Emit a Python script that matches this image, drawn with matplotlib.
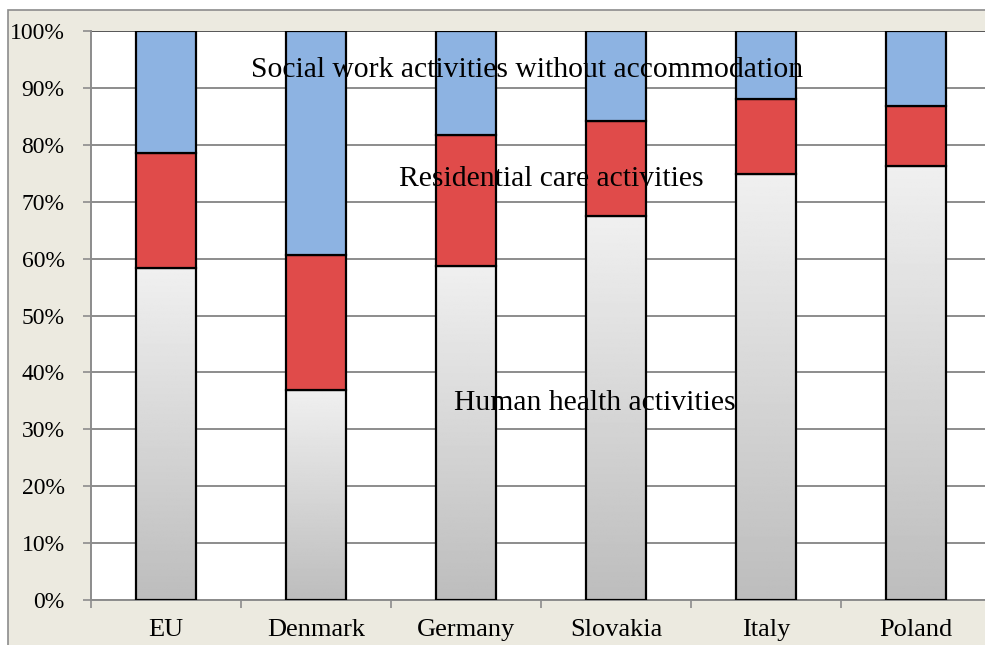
import matplotlib.pyplot as plt
import numpy as np
from matplotlib.patches import Rectangle

countries = ["EU", "Denmark", "Germany", "Slovakia", "Italy", "Poland"]
human_health = [58.3, 36.9, 58.7, 67.5, 74.9, 76.3]
residential = [20.3, 23.7, 23.0, 16.7, 13.1, 10.5]
social_work = [100 - h - r for h, r in zip(human_health, residential)]
yticks = list(range(0, 101, 10))

plt.rcParams['font.family'] = ['Liberation Serif', 'DejaVu Serif']

fig = plt.figure(figsize=(9.85, 6.45), dpi=100)
fig.patch.set_facecolor('white')
# beige chart frame, cut off at right and bottom
fig.patches.append(Rectangle((8 / 985, -0.1), 1.1, (645 - 10) / 645 + 0.1,
                             transform=fig.transFigure, facecolor='#ECEAE0',
                             edgecolor='#8C8C8C', linewidth=1.2, zorder=-10))

ax = fig.add_axes([91 / 985, 45 / 645, 900 / 985, 569 / 645])
ax.set_facecolor('white')
x = np.arange(len(countries))
w = 0.4

for y in yticks:
    ax.axhline(y, color='#555555' if y == 100 else '#8C8C8C', linewidth=1.4, zorder=1)

grad = np.linspace(0.74, 0.94, 256).reshape(-1, 1)
bars = ax.bar(x, human_health, w, color='none', edgecolor='black', linewidth=1.6, zorder=4)
for b in bars:
    bx, by = b.get_x(), b.get_y()
    im = ax.imshow(grad, cmap='gray', vmin=0, vmax=1, aspect='auto', origin='lower',
                   extent=(bx, bx + b.get_width(), by, by + b.get_height()), zorder=3)
    im.set_clip_path(b)
ax.bar(x, residential, w, bottom=human_health, color='#E04B4A', edgecolor='black',
       linewidth=1.6, zorder=4)
ax.bar(x, social_work, w, bottom=np.add(human_health, residential), color='#8DB3E2',
       edgecolor='black', linewidth=1.6, zorder=4)

ax.text(2.41, 93.2, "Social work activities without accommodation", fontsize=21.3,
        ha='center', va='center', zorder=5)
ax.text(2.57, 74.0, "Residential care activities", fontsize=21.3,
        ha='center', va='center', zorder=5)
ax.text(2.86, 34.6, "Human health activities", fontsize=21.3,
        ha='center', va='center', zorder=5)

ax.set_xlim(-0.5, 5.5)
ax.set_ylim(0, 100)
ax.set_yticks(yticks)
ax.set_yticklabels([f"{v}%" for v in yticks], fontsize=17)
ax.set_xticks(x)
ax.set_xticklabels(countries, fontsize=19)
ax.set_xticks(np.arange(-0.5, 6, 1), minor=True)
ax.tick_params(axis='x', which='major', length=0, pad=14)
ax.tick_params(axis='x', which='minor', length=6, color='#8C8C8C', width=1.2, direction='out')
ax.tick_params(axis='y', length=6, color='#8C8C8C', width=1.2, direction='out', pad=13)
for s in ['top', 'right']:
    ax.spines[s].set_visible(False)
for s in ['left', 'bottom']:
    ax.spines[s].set_color('#8C8C8C')
    ax.spines[s].set_linewidth(1.4)

fig.savefig('out.png', dpi=100)
